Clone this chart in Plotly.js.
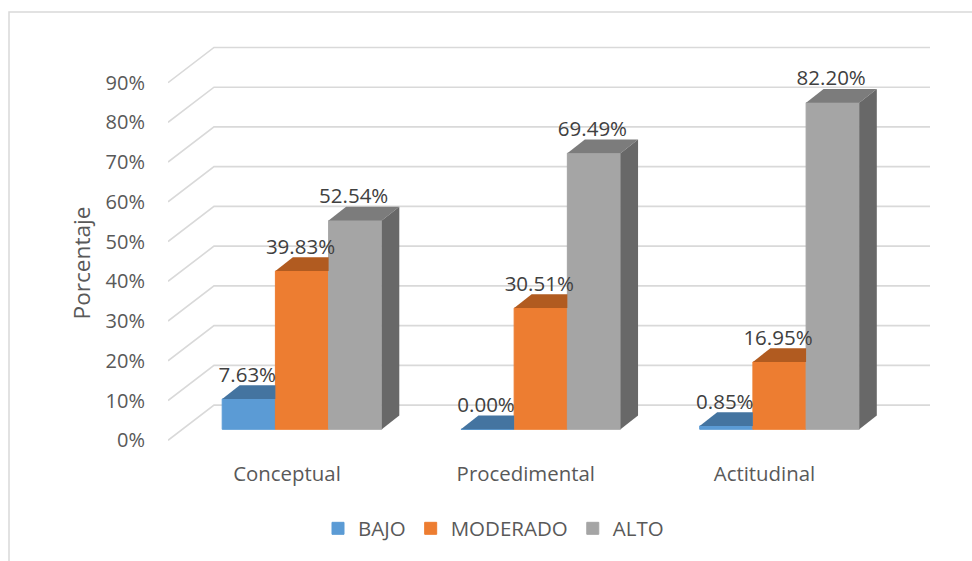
<!DOCTYPE html>
<html>
<head>
<meta charset="utf-8">
<script src="https://cdn.plot.ly/plotly-3.0.1.min.js"></script>
<style>html,body{margin:0;padding:0;background:#fff}#chart{width:972px;height:561px}</style>
</head>
<body>
<div id="chart"></div>
<script>
const categories = ["Conceptual", "Procedimental", "Actitudinal"];
const bajo = [7.63, 0.00, 0.85];
const moderado = [39.83, 30.51, 16.95];
const alto = [52.54, 69.49, 82.20];
const seriesNames = ["BAJO", "MODERADO", "ALTO"];
const tickValues = [0, 10, 20, 30, 40, 50, 60, 70, 80, 90];

const frontColors = ["#5B9BD5", "#ED7D31", "#A5A5A5"];
const topColors = ["#4474A0", "#B15B20", "#7C7C7C"];
const sideColor = "#686868";
const gridColor = "#D9D9D9";
const textColor = "#595959";
const labelColor = "#404040";
const FONT = '"Open Sans", sans-serif';

const W = 972, H = 561;
const plotLeft = 168, plotBottom = 526, axisPx = 450;
const pxPerCat = 238.75, pxPerPct = 3.974;
const zeroX = 287, zeroY = 440.3;
const xRange = [(plotLeft - zeroX) / pxPerCat, (W - zeroX) / pxPerCat];
const yRange = [-(plotBottom - zeroY) / pxPerPct, zeroY / pxPerPct];

const wallDX = 46 / pxPerCat, wallDY = 35.2 / pxPerPct;
const gridEnd = (930 - zeroX) / pxPerCat;
const barShiftX = 15 / pxPerCat, barBase = 11 / pxPerPct;
const barW = 53.2 / pxPerCat;
const depthX = 17.5 / pxPerCat, depthY = 13.7 / pxPerPct;
const labelLift = 22.3 / pxPerPct, labelNudge = -1.5 / pxPerCat;

const series = [bajo, moderado, alto];
const xBars = categories.map((_, i) => i + barShiftX);

const traces = [];
series.forEach((vals, s) => {
  traces.push({
    type: "bar", name: seriesNames[s], x: xBars, y: vals, base: barBase,
    marker: {color: frontColors[s], line: {color: frontColors[s], width: 1}},
    hoverinfo: "skip"
  });
});
series.forEach((vals, s) => {
  vals.forEach((v, i) => {
    const L = xBars[i] + (s - 1.5) * barW, R = L + barW, t = barBase + v;
    const next = series[s + 1];
    const clipped = next && next[i] >= v;
    const backR = clipped ? R : R + depthX;
    traces.push({
      type: "scatter", mode: "lines", showlegend: false, hoverinfo: "skip",
      x: [L, L + depthX, backR, R, L], y: [t, t + depthY, t + depthY, t, t],
      fill: "toself", fillcolor: topColors[s], line: {width: 0, color: topColors[s]}
    });
    if (!next) {
      traces.push({
        type: "scatter", mode: "lines", showlegend: false, hoverinfo: "skip",
        x: [R, R + depthX, R + depthX, R, R],
        y: [barBase, barBase + depthY, t + depthY, t, barBase],
        fill: "toself", fillcolor: sideColor, line: {width: 0, color: sideColor}
      });
    }
  });
});
series.forEach((vals, s) => {
  traces.push({
    type: "scatter", mode: "text", showlegend: false, hoverinfo: "skip", cliponaxis: false,
    x: xBars.map(x => x + (s - 1) * barW + labelNudge),
    y: vals.map(v => barBase + v + labelLift),
    text: vals.map(v => v.toFixed(2) + "%"),
    textposition: "middle center",
    textfont: {family: FONT, size: 20.5, color: labelColor}
  });
});

const shapes = [];
tickValues.forEach(v => {
  shapes.push({
    type: "path", layer: "below", xref: "x", yref: "y",
    path: `M${xRange[0]},${v} L${xRange[0] + wallDX},${v + wallDY} L${gridEnd},${v + wallDY}`,
    line: {color: gridColor, width: 1.6}
  });
});
const fx = px => (px - plotLeft) / (W - plotLeft);
const fy = py => (plotBottom - py) / plotBottom;
shapes.push({
  type: "path", layer: "below", xref: "paper", yref: "paper",
  path: `M${fx(9)},${fy(H + 5)} L${fx(9)},${fy(12)} L${fx(W + 5)},${fy(12)}`,
  line: {color: gridColor, width: 1.5}
});

const layout = {
  width: W, height: H,
  margin: {l: plotLeft, r: 0, t: 0, b: H - plotBottom, pad: 0},
  paper_bgcolor: "#fff", plot_bgcolor: "rgba(0,0,0,0)",
  barmode: "group", bargap: 1 - 3 * barW, bargroupgap: 0,
  showlegend: true,
  font: {family: FONT, color: textColor},
  xaxis: {
    type: "linear", range: xRange, anchor: "free", position: fy(axisPx),
    tickmode: "array", tickvals: categories.map((_, i) => i), ticktext: categories,
    ticks: "outside", ticklen: 6, tickcolor: "rgba(0,0,0,0)",
    showgrid: false, zeroline: false, showline: false,
    tickfont: {family: FONT, size: 20.4, color: textColor}
  },
  yaxis: {
    range: yRange, tickmode: "array", tickvals: tickValues,
    ticktext: tickValues.map(v => v + "%"),
    ticks: "outside", ticklen: 18, tickcolor: "rgba(0,0,0,0)",
    showgrid: false, zeroline: false, showline: false,
    tickfont: {family: FONT, size: 20, color: textColor},
    title: {text: "Porcentaje", font: {family: FONT, size: 22.6, color: textColor}, standoff: 8}
  },
  legend: {
    orientation: "h", xref: "paper", yref: "paper",
    x: fx(318), xanchor: "left", y: fy(528.5), yanchor: "middle",
    font: {family: FONT, size: 20.5, color: textColor},
    itemclick: false, itemdoubleclick: false, bgcolor: "rgba(0,0,0,0)"
  },
  shapes: shapes
};
Plotly.newPlot("chart", traces, layout, {displayModeBar: false, responsive: false});
</script>
</body>
</html>
